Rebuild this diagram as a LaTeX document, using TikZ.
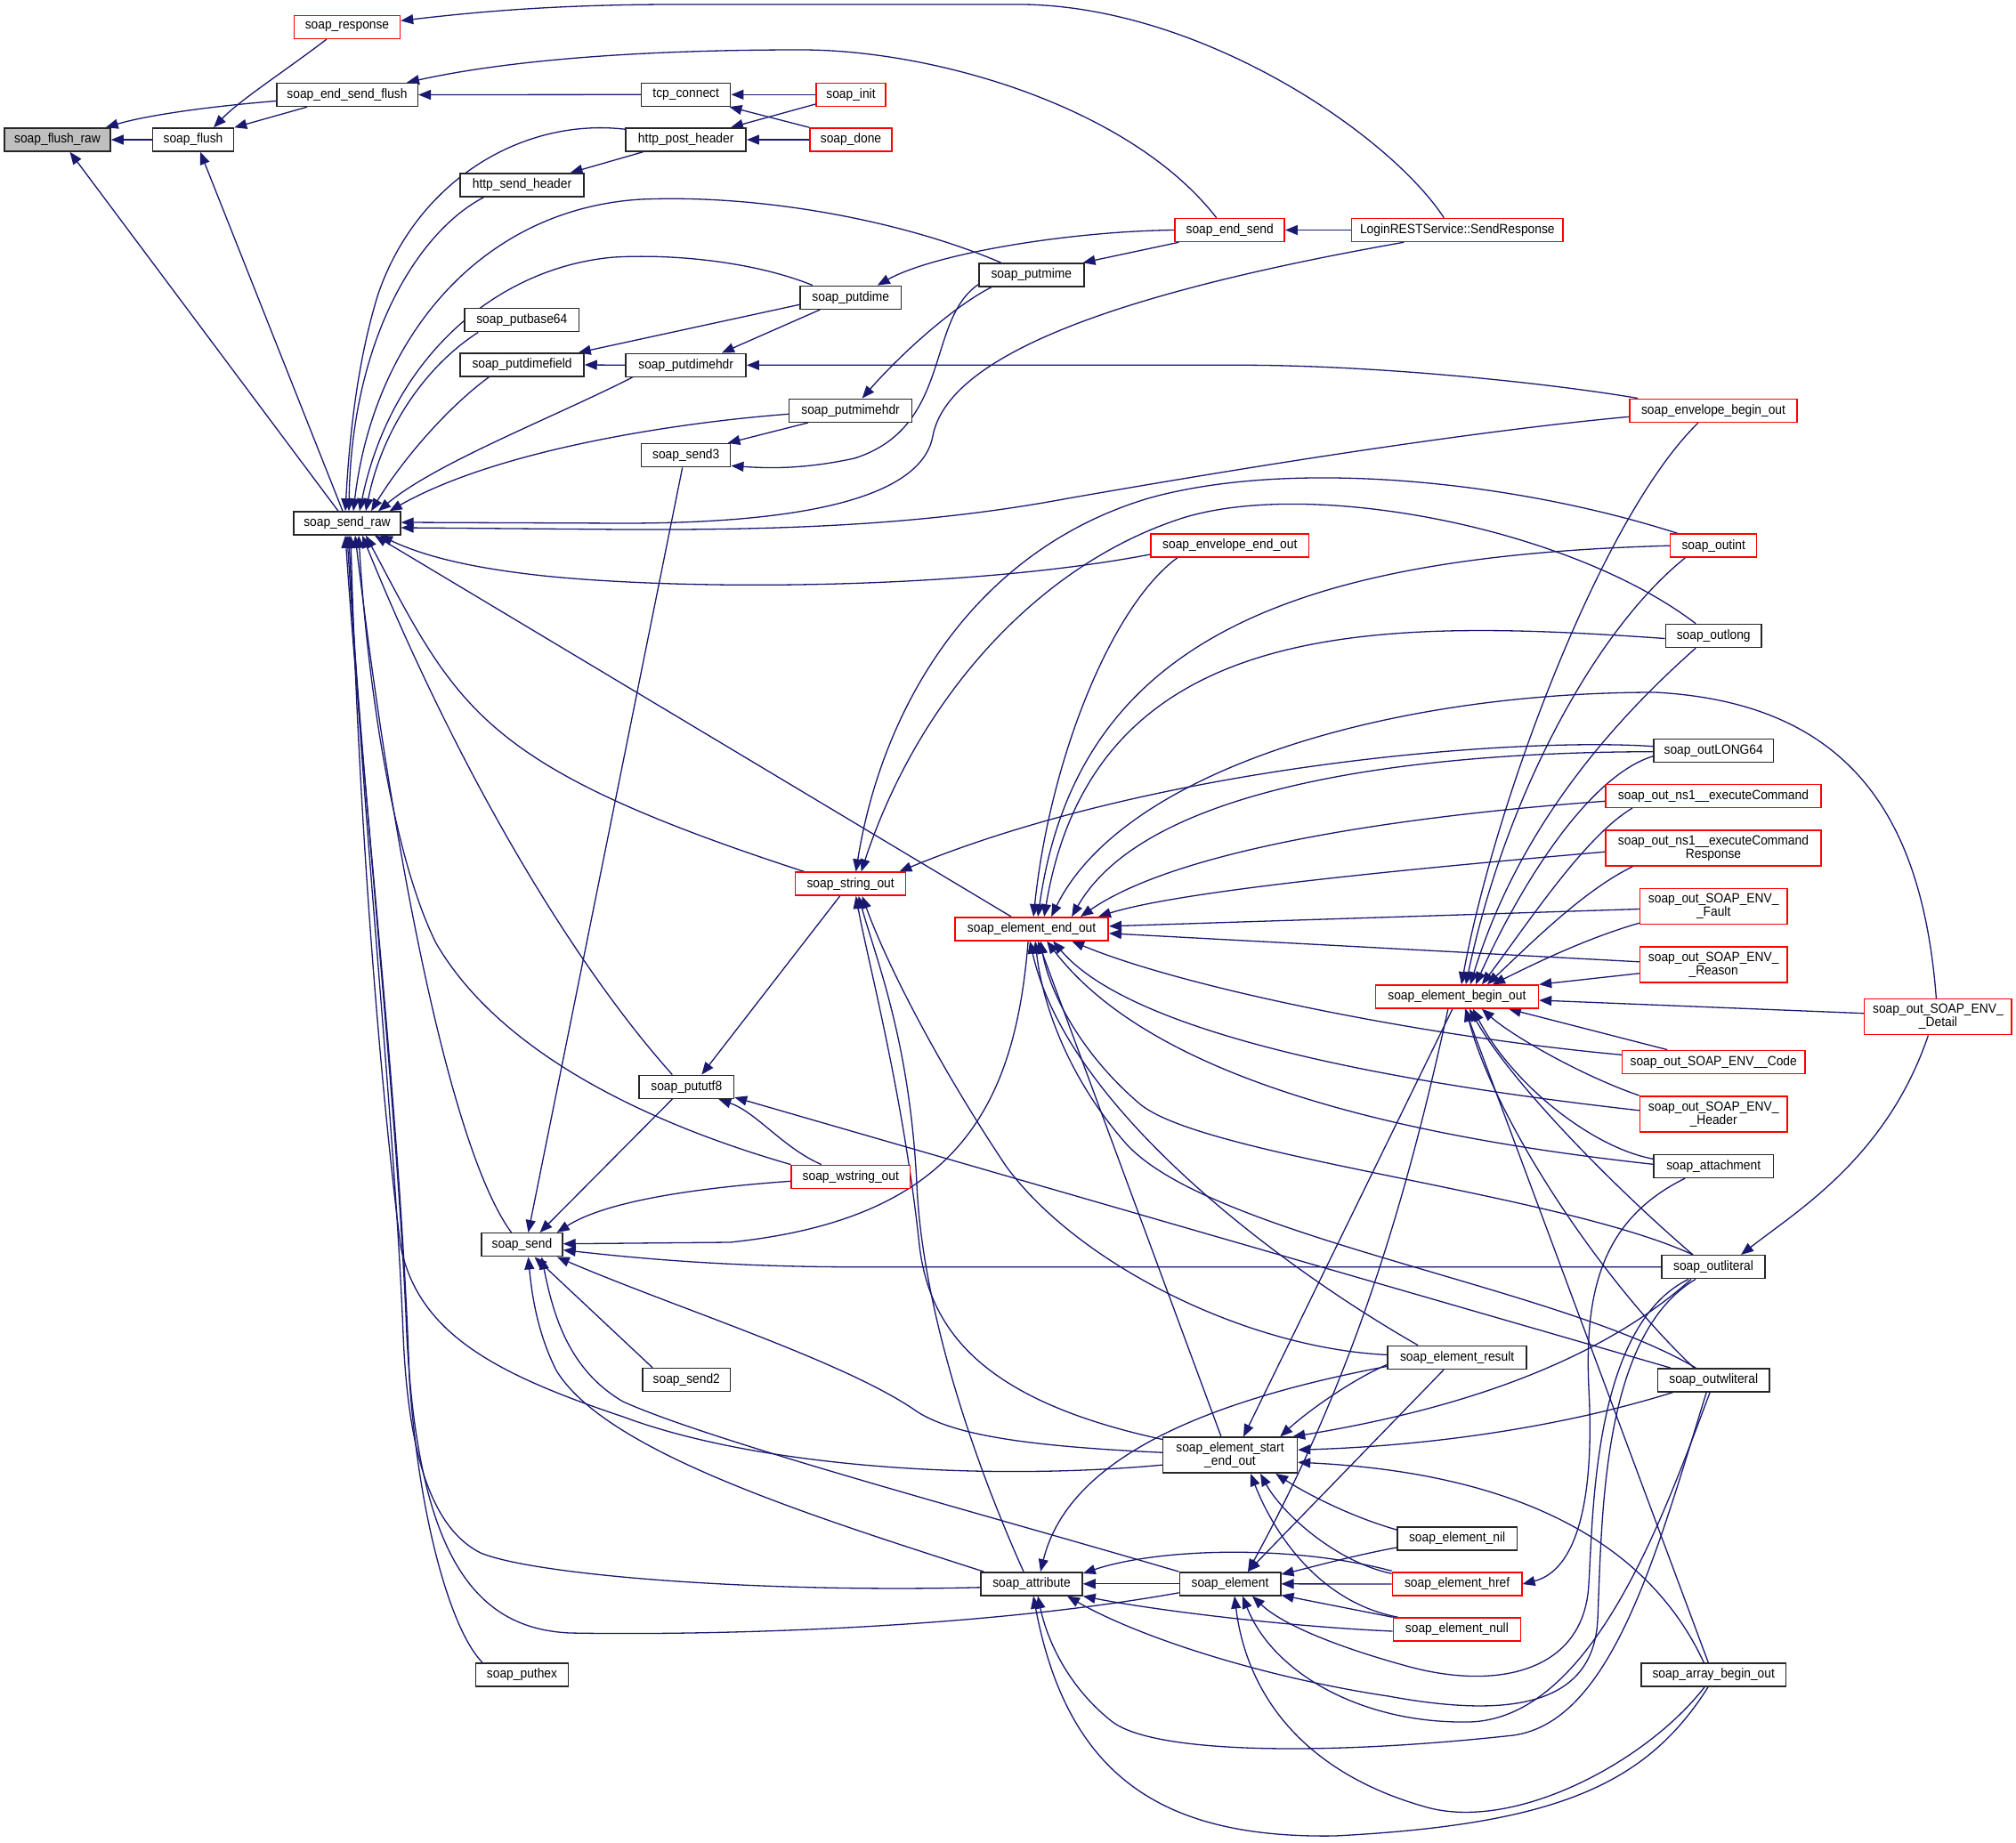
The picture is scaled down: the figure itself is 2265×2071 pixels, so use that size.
\documentclass[tikz,border=0pt]{standalone}
\usepackage{fontspec}
\setmainfont{Liberation Sans}[FakeStretch=0.92]
\usetikzlibrary{arrows.meta}
\definecolor{edgeblue}{HTML}{191970}
\definecolor{nodered}{HTML}{FF0000}
\pgfdeclarelayer{bg}
\pgfdeclarelayer{paper}
\pgfsetlayers{paper,bg,main}
\newcommand{\nfont}{\fontsize{15}{15}\selectfont}
\begin{document}
\begin{tikzpicture}[x=1pt,y=-1pt,
  nd/.style={draw=black!85, line width=1.5pt, fill=white, inner xsep=2pt, inner ysep=0pt, minimum height=26pt, font=\nfont, text=black},
  rd/.style={nd, draw=nodered},
  nd2/.style={nd, minimum height=40pt, align=center},
  rd2/.style={rd, minimum height=40pt, align=center},
  edg/.style={draw=edgeblue, line width=1.3pt, -{Triangle[length=14pt,width=11pt]}}
]
\useasboundingbox (0,0) rectangle (2265,2071);
\begin{pgfonlayer}{paper}
\fill[white] (0,0) rectangle (2265,2071);
\end{pgfonlayer}

\node[nd, fill=gray!50, minimum width=119pt] (fr) at (64.5,157) {soap\_flush\_raw};
\node[nd, minimum width=91pt] (fl) at (217,157) {soap\_flush};
\node[rd, minimum width=119pt] (resp) at (390,30.3) {soap\_response};
\node[nd, minimum width=158.5pt] (esf) at (390,106.5) {soap\_end\_send\_flush};
\node[nd, minimum width=100pt] (tcp) at (770.7,106.3) {tcp\_connect};
\node[rd, minimum width=78.4pt] (init) at (956,106.3) {soap\_init};
\node[nd, minimum width=135pt] (hph) at (770.7,157) {http\_post\_header};
\node[rd, minimum width=91.6pt] (done) at (956,157) {soap\_done};
\node[nd, minimum width=138.6pt] (hsh) at (586.5,208) {http\_send\_header};
\node[rd, minimum width=123pt] (es) at (1381.7,258.5) {soap\_end\_send};
\node[rd, minimum width=237.6pt] (login) at (1637.3,258.5) {LoginRESTService::SendResponse};
\node[nd, minimum width=118pt] (pmime) at (1158.8,309) {soap\_putmime};
\node[nd, minimum width=113.6pt] (pdime) at (955.8,334.3) {soap\_putdime};
\node[nd, minimum width=128.5pt] (pb64) at (586.3,359.7) {soap\_putbase64};
\node[nd, minimum width=139pt] (pdf) at (586.5,410) {soap\_putdimefield};
\node[nd, minimum width=135pt] (pdh) at (770.7,410.3) {soap\_putdimehdr};
\node[nd, minimum width=138pt] (pmh) at (955.6,461.3) {soap\_putmimehdr};
\node[rd, minimum width=188.3pt] (ebo) at (1925,461.3) {soap\_envelope\_begin\_out};
\node[nd, minimum width=100pt] (s3) at (770.7,511.7) {soap\_send3};
\node[nd, minimum width=119.8pt] (raw) at (390,588) {soap\_send\_raw};
\node[rd, minimum width=177.7pt] (eeo) at (1381.8,613) {soap\_envelope\_end\_out};
\node[rd, minimum width=97pt] (oint) at (1925.2,613.2) {soap\_outint};
\node[nd, minimum width=107.8pt] (olong) at (1925.2,714.5) {soap\_outlong};
\node[nd, minimum width=134.2pt] (o64) at (1925.2,843.7) {soap\_outLONG64};
\node[rd, minimum width=242pt] (ns1) at (1925,894.3) {soap\_out\_ns1\_\_executeCommand};
\node[rd2, minimum width=242pt] (ns1r) at (1925,953.2) {soap\_out\_ns1\_\_executeCommand\\Response};
\node[rd, minimum width=124pt] (sout) at (955.6,993.2) {soap\_string\_out};
\node[rd2, minimum width=165.4pt] (fault) at (1925.2,1018.5) {soap\_out\_SOAP\_ENV\_\\\_Fault};
\node[rd, minimum width=172.2pt] (eend) at (1159.1,1043.8) {soap\_element\_end\_out};
\node[rd2, minimum width=165.4pt] (reason) at (1925.2,1083.8) {soap\_out\_SOAP\_ENV\_\\\_Reason};
\node[rd, minimum width=183pt] (ebegin) at (1636.9,1120) {soap\_element\_begin\_out};
\node[rd2, minimum width=165.5pt] (detail) at (2177.4,1142.7) {soap\_out\_SOAP\_ENV\_\\\_Detail};
\node[rd, minimum width=205.4pt] (code) at (1925.2,1193.3) {soap\_out\_SOAP\_ENV\_\_Code};
\node[nd, minimum width=106.4pt] (utf8) at (771.3,1221.3) {soap\_pututf8};
\node[rd2, minimum width=165.4pt] (header) at (1925.2,1251.8) {soap\_out\_SOAP\_ENV\_\\\_Header};
\node[nd, minimum width=134.2pt] (attach) at (1925.2,1310.3) {soap\_attachment};
\node[rd, minimum width=133.3pt] (wstr) at (955.8,1322.3) {soap\_wstring\_out};
\node[nd, minimum width=91pt] (send) at (586.5,1398.7) {soap\_send};
\node[nd, minimum width=116pt] (olit) at (1925,1423.7) {soap\_outliteral};
\node[nd, minimum width=156pt] (result) at (1637.1,1525.4) {soap\_element\_result};
\node[nd, minimum width=125.4pt] (owlit) at (1925.2,1550.8) {soap\_outwliteral};
\node[nd, minimum width=98.7pt] (send2) at (771.3,1550.7) {soap\_send2};
\node[nd2, minimum width=150.9pt] (seeo) at (1382,1635.2) {soap\_element\_start\\\_end\_out};
\node[nd, minimum width=134.6pt] (nil) at (1637.1,1729) {soap\_element\_nil};
\node[nd, minimum width=114pt] (attr) at (1159,1779.8) {soap\_attribute};
\node[nd, minimum width=113.5pt] (elem) at (1382,1779.8) {soap\_element};
\node[rd, minimum width=145.4pt] (href) at (1637.1,1780) {soap\_element\_href};
\node[rd, minimum width=143pt] (null) at (1636.9,1831) {soap\_element\_null};
\node[nd, minimum width=162.5pt] (arr) at (1925.2,1881.8) {soap\_array\_begin\_out};
\node[nd, minimum width=103.8pt] (hex) at (586.5,1881.8) {soap\_puthex};

\begin{pgfonlayer}{bg}
% upper region
\draw[edg] (fl.west) -- (fr.east);
\draw[edg] ([yshift=-7pt]esf.west) .. controls (220,121) and (160,131) .. ([xshift=-6pt]fr.north east);
\draw[edg] ([xshift=-10pt]raw.north) -- ([xshift=14pt]fr.south);
\draw[edg] ([xshift=-23pt]resp.south) .. controls (320,80) and (270,112) .. ([xshift=23pt]fl.north);
\draw[edg] ([xshift=-45pt]esf.south) -- (fl.north east);
\draw[edg] ([xshift=-5pt]raw.north) -- ([xshift=8pt]fl.south);
\draw[edg] ([xshift=-15pt]login.north) .. controls (1560,150) and (1350,8) .. (1150,5) -- (760,5) .. controls (620,5) and (530,14) .. ([yshift=7pt]resp.east);
\draw[edg] (tcp.west) -- (esf.east);
\draw[edg] ([xshift=-15pt]es.north) .. controls (1270,120) and (1050,56) .. (900,56) .. controls (700,56) and (560,70) .. ([xshift=-13pt]esf.north east);
\draw[edg] (init.west) -- (tcp.east);
\draw[edg] (done.north west) -- ([xshift=-2pt]tcp.south east);
\draw[edg] ([yshift=3pt]init.south west) -- ([xshift=-18pt]hph.north east);
\draw[edg] (done.west) -- (hph.east);
\draw[edg] ([xshift=20pt]hph.south west) -- ([xshift=-16pt]hsh.north east);
% into soap_send_raw from above
\draw[edg] ([yshift=-2pt]hph.north west) .. controls (590,132) and (470,200) .. (425,330) .. controls (400,410) and (392,500) .. ([xshift=-2pt]raw.north);
\draw[edg] ([xshift=27pt]hsh.south west) .. controls (470,260) and (395,380) .. ([xshift=2pt]raw.north);
\draw[edg] ([xshift=-34pt]pmime.north) .. controls (1020,250) and (860,218) .. (720,224) .. controls (540,235) and (420,380) .. ([xshift=7pt]raw.north);
\draw[edg] ([xshift=-43pt]pdime.north) .. controls (850,295) and (760,285) .. (690,289) .. controls (560,300) and (440,400) .. ([xshift=14pt]raw.north);
\draw[edg] ([xshift=16pt]pb64.south west) .. controls (480,410) and (430,480) .. ([xshift=21pt]raw.north);
\draw[edg] ([xshift=33pt]pdf.south west) .. controls (500,460) and (450,520) .. ([xshift=27pt]raw.north);
\draw[edg] ([xshift=8pt]pdh.south west) .. controls (620,470) and (490,520) .. ([xshift=35pt]raw.north);
\draw[edg] ([yshift=-4pt]pmh.west) .. controls (760,475) and (560,505) .. ([xshift=-13pt]raw.north east);
% into soap_send_raw from the right
\draw[edg] ([xshift=-60pt]login.south) .. controls (1250,330) and (1065,400) .. (1048,490) .. controls (1035,560) and (900,588) .. (700,588) -- ([yshift=1pt]raw.east);
\draw[edg] ([yshift=-7pt]ebo.west) .. controls (1650,485) and (1400,525) .. (1200,560) .. controls (1050,588) and (900,596) .. (700,595) -- ([yshift=-5pt]raw.east);
\draw[edg] ([yshift=-10pt]eeo.west) .. controls (1100,660) and (800,665) .. (620,648) .. controls (520,638) and (470,622) .. ([xshift=37pt]raw.south);
\draw[edg] ([xshift=-23pt]eend.north) -- ([xshift=31pt]raw.south);
\draw[edg] ([xshift=-52pt]sout.north) .. controls (540,861) and (515,798) .. ([xshift=21pt]raw.south);
\draw[edg] ([xshift=-16pt]utf8.north) .. controls (650,1090) and (520,880) .. ([xshift=17pt]raw.south);
\draw[edg] (wstr.north west) .. controls (720,1260) and (560,1180) .. (490,1060) .. controls (440,960) and (412,760) .. ([xshift=13pt]raw.south);
\draw[edg] ([xshift=-12pt]send.north) .. controls (505,1290) and (440,950) .. ([xshift=9pt]raw.south);
% long bundle into soap_send_raw
\draw[edg] ([yshift=-11pt]seeo.west) .. controls (1100,1665) and (850,1648) .. (700,1592) .. controls (560,1545) and (470,1500) .. (450,1400) .. controls (425,1200) and (402,900) .. ([xshift=4pt]raw.south);
\draw[edg] ([yshift=-4pt]attr.west) .. controls (850,1790) and (600,1770) .. (540,1745) .. controls (480,1715) and (458,1620) .. (453,1500) .. controls (443,1250) and (405,900) .. ([xshift=2pt]raw.south);
\draw[edg] ([yshift=-10pt]elem.west) .. controls (1100,1830) and (800,1838) .. (640,1835) .. controls (540,1830) and (470,1760) .. (457,1500) .. controls (447,1250) and (408,900) .. (raw.south);
\draw[edg] ([xshift=8pt]hex.north west) .. controls (505,1830) and (470,1700) .. (460,1550) .. controls (450,1250) and (408,900) .. ([xshift=-2pt]raw.south);
% soap_end_send and dime/mime
\draw[edg] (login.west) -- (es.east);
\draw[edg] (es.west) .. controls (1200,260) and (1050,285) .. ([xshift=30pt]pdime.north);
\draw[edg] ([xshift=5pt]es.south west) -- ([xshift=-2pt]pmime.north east);
\draw[edg] ([yshift=-8pt]pdime.west) -- ([xshift=-7pt]pdf.north east);
\draw[edg] (pdh.west) -- (pdf.east);
\draw[edg] ([xshift=23pt]pdime.south west) -- ([xshift=-28pt]pdh.north east);
\draw[edg] ([xshift=10pt]ebo.north west) .. controls (1750,432) and (1560,411) .. (1400,410.3) -- (pdh.east);
\draw[edg] ([xshift=-45pt]pmime.south) .. controls (1070,345) and (1010,400) .. ([xshift=13pt]pmh.north);
\draw[edg] ([xshift=22pt]pmh.south west) -- ([xshift=-4pt]s3.north east);
\draw[edg] ([yshift=3pt]pmime.south west) .. controls (1040,360) and (1070,480) .. (960,515) .. controls (900,528) and (860,526) .. ([yshift=2pt]s3.south east);
% into soap_send
\draw[edg] ([xshift=-4pt]s3.south) -- ([xshift=7pt]send.north);
\draw[edg] ([xshift=-16pt]utf8.south) -- ([xshift=20pt]send.north);
\draw[edg] ([yshift=-5pt]wstr.west) .. controls (780,1335) and (680,1350) .. ([xshift=-7pt]send.north east);
\draw[edg] ([xshift=-4pt]eend.south) .. controls (1140,1250) and (1070,1370) .. (820,1396) -- ([yshift=1pt]send.east);
\draw[edg] (olit.west) -- (950,1423.7) .. controls (800,1423) and (700,1412) .. ([yshift=-6pt]send.east);
\draw[edg] ([yshift=3pt]seeo.west) .. controls (1150,1625) and (1070,1612) .. (1030,1586) .. controls (950,1530) and (760,1470) .. ([xshift=-7pt]send.south east);
\draw[edg] ([xshift=12pt]send2.north west) -- ([xshift=14pt]send.south);
\draw[edg] ([xshift=4pt]attr.north west) .. controls (900,1700) and (680,1630) .. (625,1540) .. controls (605,1500) and (598,1460) .. ([xshift=7pt]send.south);
\draw[edg] (elem.north west) .. controls (1100,1700) and (800,1620) .. (700,1575) .. controls (640,1540) and (622,1480) .. ([xshift=22pt]send.south);
% into soap_pututf8
\draw[edg] ([xshift=-12pt]sout.south) -- ([xshift=17pt]utf8.north);
\draw[edg] ([xshift=-33pt]wstr.north) .. controls (880,1290) and (850,1250) .. ([xshift=36pt]utf8.south);
\draw[edg] ([xshift=15pt]owlit.north west) -- ([yshift=2pt]utf8.south east);
% into soap_string_out
\draw[edg] ([xshift=-40pt]oint.north) .. controls (1700,540) and (1450,515) .. (1290,560) .. controls (1090,620) and (990,800) .. ([xshift=6pt]sout.north);
\draw[edg] ([xshift=-20pt]olong.north) .. controls (1760,590) and (1460,535) .. (1320,585) .. controls (1160,640) and (1030,790) .. ([xshift=12pt]sout.north);
\draw[edg] ([yshift=5pt]o64.west) .. controls (1700,828) and (1300,860) .. ([xshift=-8pt]sout.north east);
\draw[edg] ([yshift=-3pt]seeo.north west) .. controls (1110,1575) and (1045,1500) .. (1033,1400) .. controls (1015,1230) and (975,1080) .. ([xshift=6pt]sout.south);
\draw[edg] ([xshift=-9pt]attr.north) .. controls (1080,1610) and (1035,1450) .. (1030,1330) .. controls (1022,1170) and (985,1080) .. ([xshift=9pt]sout.south);
\draw[edg] ([yshift=3pt]result.west) .. controls (1400,1515) and (1210,1420) .. (1130,1310) .. controls (1050,1190) and (995,1080) .. ([xshift=13pt]sout.south);
% into soap_element_end_out
\draw[edg] ([xshift=-59pt]eeo.south) .. controls (1250,680) and (1180,850) .. ([xshift=2pt]eend.north);
\draw[edg] (oint.west) .. controls (1450,625) and (1210,720) .. ([xshift=7pt]eend.north);
\draw[edg] ([yshift=-3pt]olong.west) .. controls (1550,695) and (1230,690) .. ([xshift=14pt]eend.north);
\draw[edg] ([xshift=-2pt]detail.north) .. controls (2160,920) and (2080,790) .. (1860,778) .. controls (1550,778) and (1260,870) .. ([xshift=22pt]eend.north);
\draw[edg] ([yshift=-1pt]o64.west) .. controls (1600,845) and (1290,880) .. ([xshift=45pt]eend.north);
\draw[edg] ([yshift=-6pt]ns1.west) .. controls (1600,915) and (1330,950) .. ([xshift=-32pt]eend.north east);
\draw[edg] ([yshift=-4pt]ns1r.west) .. controls (1600,975) and (1330,1000) .. ([xshift=-12pt]eend.north east);
\draw[edg] ([yshift=-3pt]fault.west) -- ([yshift=3pt]eend.east);
\draw[edg] ([yshift=3pt]reason.west) -- ([yshift=-5pt]eend.east);
\draw[edg] ([yshift=8pt]code.west) .. controls (1600,1165) and (1330,1110) .. ([xshift=45pt]eend.south);
\draw[edg] ([yshift=4pt]header.west) .. controls (1550,1215) and (1270,1160) .. ([xshift=24pt]eend.south);
\draw[edg] ([yshift=2pt]attach.west) .. controls (1600,1280) and (1300,1220) .. ([xshift=17pt]eend.south);
\draw[edg] ([xshift=-23pt]olit.north) .. controls (1750,1340) and (1350,1300) .. (1280,1240) .. controls (1210,1180) and (1178,1110) .. ([xshift=10pt]eend.south);
\draw[edg] ([xshift=-20pt]owlit.north) .. controls (1750,1445) and (1360,1390) .. (1265,1285) .. controls (1195,1205) and (1170,1120) .. ([xshift=4pt]eend.south);
\draw[edg] ([xshift=-44pt]result.north) .. controls (1450,1430) and (1200,1250) .. ([xshift=-2pt]eend.south);
\draw[edg] ([xshift=-10pt]seeo.north) -- ([xshift=7pt]eend.south);
% into soap_element_begin_out
\draw[edg] ([xshift=-17pt]ebo.south) .. controls (1800,580) and (1680,900) .. ([xshift=5pt]ebegin.north);
\draw[edg] ([xshift=-32pt]oint.south) .. controls (1790,710) and (1690,900) .. ([xshift=10pt]ebegin.north);
\draw[edg] ([xshift=-20pt]olong.south) .. controls (1790,830) and (1700,950) .. ([xshift=15pt]ebegin.north);
\draw[edg] ([yshift=-6pt]o64.west) .. controls (1790,870) and (1715,980) .. ([xshift=21pt]ebegin.north);
\draw[edg] ([xshift=-91pt]ns1.south) .. controls (1780,940) and (1715,1040) .. ([xshift=28pt]ebegin.north);
\draw[edg] ([xshift=-91pt]ns1r.south) .. controls (1780,1000) and (1720,1060) .. ([xshift=34pt]ebegin.north);
\draw[edg] ([yshift=2pt]fault.south west) .. controls (1780,1055) and (1720,1085) .. ([xshift=40pt]ebegin.north);
\draw[edg] ([yshift=-10pt]reason.west) -- (ebegin.north east);
\draw[edg] ([yshift=4pt]detail.west) -- ([yshift=-4pt]ebegin.east);
\draw[edg] ([xshift=-52pt]code.north) -- ([xshift=58pt]ebegin.south);
\draw[edg] (header.north west) .. controls (1780,1210) and (1700,1165) .. ([xshift=28pt]ebegin.south);
\draw[edg] ([yshift=8pt]attach.west) .. controls (1790,1290) and (1700,1220) .. ([xshift=18pt]ebegin.south);
\draw[edg] ([xshift=-23pt]olit.north) .. controls (1820,1340) and (1700,1220) .. ([xshift=14pt]ebegin.south);
\draw[edg] ([xshift=-22pt]owlit.north) .. controls (1800,1440) and (1680,1260) .. ([xshift=10pt]ebegin.south);
\draw[edg] ([xshift=-6pt]arr.north) -- ([xshift=9pt]ebegin.south);
% from soap_element_begin_out
\draw[edg] ([xshift=-5pt]ebegin.south) -- ([xshift=15pt]seeo.north);
\draw[edg] ([xshift=-10pt]ebegin.south) .. controls (1580,1350) and (1520,1550) .. ([xshift=20pt]elem.north);
% into soap_element_start_end_out
\draw[edg] ([yshift=-8pt]result.west) .. controls (1520,1550) and (1470,1585) .. ([xshift=-20pt]seeo.north east);
\draw[edg] ([xshift=-25pt]olit.south) .. controls (1780,1545) and (1600,1590) .. ([xshift=-6pt]seeo.north east);
\draw[edg] ([xshift=18pt]owlit.south west) .. controls (1750,1605) and (1600,1625) .. ([yshift=6pt]seeo.east);
\draw[edg] ([xshift=-11pt]arr.north) .. controls (1850,1730) and (1700,1655) .. ([yshift=-8pt]seeo.east);
\draw[edg] ([yshift=10pt]nil.west) .. controls (1520,1705) and (1470,1680) .. ([xshift=-25pt]seeo.south east);
\draw[edg] ([yshift=-2pt]href.north west) .. controls (1500,1755) and (1440,1700) .. ([xshift=34pt]seeo.south);
\draw[edg] ([xshift=6pt]null.north west) .. controls (1480,1800) and (1430,1720) .. ([xshift=23pt]seeo.south);
% into soap_attribute
\draw[edg] (elem.west) -- (attr.east);
\draw[edg] ([yshift=1pt]href.north west) .. controls (1450,1735) and (1300,1740) .. ([yshift=-2pt]attr.north east);
\draw[edg] ([yshift=-10pt]result.west) .. controls (1350,1575) and (1200,1640) .. ([xshift=10pt]attr.north);
\draw[edg] ([yshift=-2pt]null.west) .. controls (1450,1828) and (1300,1810) .. (attr.south east);
\draw[edg] ([xshift=-20pt]olit.south) .. controls (1800,1500) and (1800,1700) .. (1795,1820) .. controls (1790,1920) and (1690,1930) .. (1560,1906) .. controls (1420,1885) and (1280,1840) .. ([xshift=40pt]attr.south);
\draw[edg] ([xshift=-8pt]owlit.south) .. controls (1860,1750) and (1810,1935) .. (1700,1950) .. controls (1500,1972) and (1300,1972) .. (1250,1935) .. controls (1205,1900) and (1178,1850) .. ([xshift=7pt]attr.south);
\draw[edg] ([xshift=-6pt]arr.south) .. controls (1850,2005) and (1750,2050) .. (1500,2063) .. controls (1310,2066) and (1200,2000) .. ([xshift=2pt]attr.south);
% into soap_element
\draw[edg] ([xshift=-15pt]result.south) -- ([xshift=20pt]elem.north);
\draw[edg] ([yshift=-10pt]nil.west) .. controls (1520,1748) and (1470,1762) .. ([yshift=-3pt]elem.north east);
\draw[edg] (href.west) -- (elem.east);
\draw[edg] (null.north west) -- ([yshift=1pt]elem.south east);
\draw[edg] ([xshift=-28pt]olit.south) .. controls (1790,1490) and (1790,1700) .. (1785,1780) .. controls (1780,1880) and (1680,1900) .. (1580,1872) .. controls (1500,1850) and (1440,1825) .. ([xshift=25pt]elem.south);
\draw[edg] ([xshift=-4pt]owlit.south) .. controls (1870,1700) and (1790,1932) .. (1650,1935) .. controls (1530,1937) and (1430,1880) .. ([xshift=14pt]elem.south);
\draw[edg] ([xshift=-10pt]arr.south) .. controls (1850,1980) and (1700,2060) .. (1600,2030) .. controls (1460,1990) and (1400,1900) .. ([xshift=5pt]elem.south);
% others
\draw[edg] ([xshift=-32pt]attach.south) .. controls (1800,1370) and (1780,1450) .. (1785,1560) .. controls (1792,1690) and (1770,1765) .. (href.east);
\draw[edg] ([xshift=-11pt]detail.south) .. controls (2120,1300) and (2020,1360) .. ([xshift=31pt]olit.north);
\end{pgfonlayer}
\end{tikzpicture}
\end{document}
